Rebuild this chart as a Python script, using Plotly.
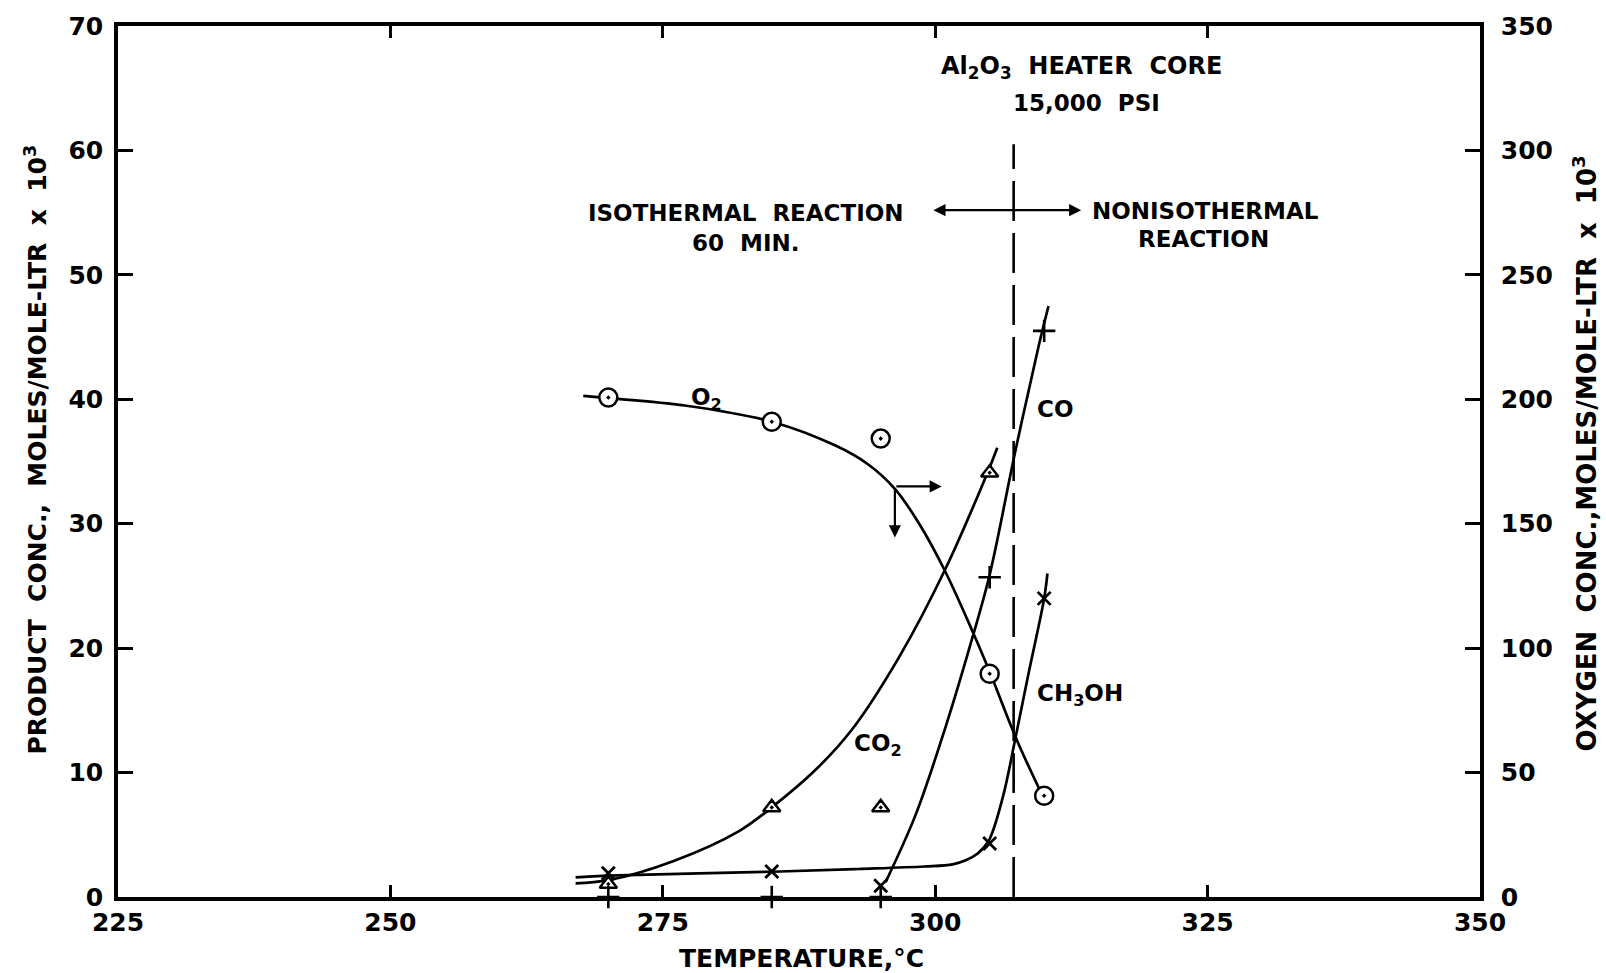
import plotly.graph_objects as go

# ---------------- data ----------------
temp_pts = [270, 285, 295, 305, 310]
o2_pts = [200.7, 191.0, 184.2, 89.7, 40.7]          # right axis
co2_temp = [270, 285, 295, 305]
co2_pts = [1.05, 7.2, 7.2, 34.1]                     # left axis
co_pts = [0, 0, 0, 25.7, 45.5]
ch3oh_pts = [1.9, 2.05, 0.9, 4.3, 24.0]

# hand-drawn fitted curves
o2_curve_t = [267.7, 270, 277, 285, 290.8, 293.8, 296.3, 298.6, 300.9, 303.4, 305, 307.5, 309.6]
o2_curve_v = [201.4, 200.5, 197.5, 191, 181.5, 174, 164, 149.5, 131, 107, 90.5, 63, 43]
co2_curve_t = [267.0, 270, 276, 282, 285, 289, 292.4, 296.7, 300.9, 304.8, 305.7]
co2_curve_v = [1.1, 1.35, 2.9, 5.3, 7.2, 10.2, 13.5, 19.3, 26.3, 34.1, 36.1]
co_curve_t = [295.45, 298.2, 301.0, 303.4, 305, 307.3, 309.5, 310.4]
co_curve_v = [1.2, 6.6, 13.8, 20.8, 25.9, 35.6, 44.3, 47.5]
ch3oh_curve_t = [267.0, 270, 285, 293, 299, 301.6, 302.8, 303.9, 304.9, 306.2, 307.3, 308.6, 310, 310.3]
ch3oh_curve_v = [1.58, 1.72, 2.03, 2.25, 2.45, 2.62, 2.95, 3.5, 4.5, 8.0, 12.5, 18.1, 24.0, 26.0]

transition_temp = 307.2
transition_top = 60.5

x_ticks = [225, 250, 275, 300, 325, 350]
left_ticks = [0, 10, 20, 30, 40, 50, 60, 70]
right_ticks = [0, 50, 100, 150, 200, 250, 300, 350]

FONT = "DejaVu Sans"
BLACK = "black"
LW = 2.7

fig = go.Figure()

def curve(t, v, yaxis="y"):
    fig.add_trace(go.Scatter(x=t, y=v, mode="lines", yaxis=yaxis,
                             line=dict(color=BLACK, width=LW, shape="spline", smoothing=1.0),
                             showlegend=False, hoverinfo="skip"))

curve(o2_curve_t, o2_curve_v, "y2")
curve(co2_curve_t, co2_curve_v)
curve(co_curve_t, co_curve_v)
curve(ch3oh_curve_t, ch3oh_curve_v)

# transition dashed line
fig.add_trace(go.Scatter(x=[transition_temp, transition_temp], y=[0, transition_top], mode="lines",
                         line=dict(color=BLACK, width=2.6, dash="40px,12px"),
                         showlegend=False, hoverinfo="skip"))

# markers
fig.add_trace(go.Scatter(x=temp_pts, y=o2_pts, yaxis="y2", mode="markers", name="O2",
                         marker=dict(symbol="circle-dot", size=18, color="white",
                                     line=dict(width=2.5, color=BLACK)), showlegend=False))
fig.add_trace(go.Scatter(x=co2_temp, y=co2_pts, mode="markers", name="CO2",
                         marker=dict(symbol="triangle-up-dot", size=15, color="white",
                                     line=dict(width=2.5, color=BLACK)), showlegend=False))
fig.add_trace(go.Scatter(x=temp_pts, y=co_pts, mode="markers", name="CO",
                         marker=dict(symbol="cross-thin-open", size=16, color=BLACK,
                                     line=dict(width=2.6, color=BLACK)), showlegend=False,
                         cliponaxis=False))
fig.add_trace(go.Scatter(x=temp_pts, y=ch3oh_pts, mode="markers", name="CH3OH",
                         marker=dict(symbol="x-thin-open", size=13, color=BLACK,
                                     line=dict(width=2.8, color=BLACK)), showlegend=False))

tfont = dict(family=FONT, size=25, color=BLACK, weight="bold")

axis_common = dict(showgrid=False, zeroline=False, showline=True, linewidth=3.5,
                   linecolor=BLACK, ticks="inside", tickcolor=BLACK, tickwidth=2.5,
                   tickfont=tfont)

fig.update_layout(
    width=1606, height=973,
    margin=dict(l=118, r=126, t=24, b=76),
    paper_bgcolor="white", plot_bgcolor="white",
    xaxis=dict(range=[225, 350], tickvals=x_ticks, ticklen=12, mirror="ticks",
               ticklabelstandoff=0, **axis_common),
    yaxis=dict(range=[0, 70], tickvals=left_ticks, ticklen=15, mirror=True,
               ticklabelstandoff=6, **axis_common),
    yaxis2=dict(range=[0, 350], tickvals=right_ticks, overlaying="y", side="right",
                ticklen=15, ticklabelstandoff=12, **axis_common),
)

def label(text, x, y, xanchor="center", size=23):
    fig.add_annotation(text=text, x=x, y=y, xref="x", yref="y", showarrow=False,
                       xanchor=xanchor, yanchor="middle",
                       font=dict(family=FONT, size=size, color=BLACK, weight="bold"))

label("O<sub>2</sub>", 279.0, 40.0)
label("CO", 309.2, 39.2, "left")
label("CH<sub>3</sub>OH", 309.2, 16.2, "left")
label("CO<sub>2</sub>", 292.4, 12.2, "left")
label("Al<sub>2</sub>O<sub>3</sub>  HEATER  CORE", 313.4, 66.7, size=24)
label("15,000  PSI", 313.9, 63.8)
label("ISOTHERMAL  REACTION", 282.6, 54.95)
label("60  MIN.", 282.6, 52.55)
label("NONISOTHERMAL", 324.8, 55.1)
label("REACTION", 324.6, 52.85)

# arrows from the O2 curve pointing to the right axis and down
arrow = dict(xref="x", yref="y", axref="x", ayref="y", text="", showarrow=True,
             arrowhead=2, arrowsize=1.1, arrowwidth=2.2, arrowcolor=BLACK)
fig.add_annotation(x=300.6, y=33.0, ax=296.3, ay=33.0, **arrow)
fig.add_annotation(x=296.3, y=28.9, ax=296.3, ay=33.0, **arrow)
fig.add_annotation(x=313.4, y=55.2, ax=299.7, ay=55.2, arrowside="end+start", **arrow)

# axis titles
fig.add_annotation(text="PRODUCT  CONC.,  MOLES/MOLE-LTR  x  10<sup>3</sup>", xref="paper", yref="paper",
                   x=-0.060, y=0.514, textangle=-90, showarrow=False,
                   xanchor="center", yanchor="middle",
                   font=dict(family=FONT, size=25, color=BLACK, weight="bold"))
fig.add_annotation(text="OXYGEN  CONC.,MOLES/MOLE-LTR  x  10<sup>3</sup>", xref="paper", yref="paper",
                   x=1.077, y=0.509, textangle=-90, showarrow=False,
                   xanchor="center", yanchor="middle",
                   font=dict(family=FONT, size=26, color=BLACK, weight="bold"))
fig.add_annotation(text="TEMPERATURE,°C", xref="paper", yref="paper",
                   x=0.502, y=-0.071, showarrow=False, xanchor="center", yanchor="middle",
                   font=dict(family=FONT, size=25, color=BLACK, weight="bold"))

fig.write_html("out.html")
